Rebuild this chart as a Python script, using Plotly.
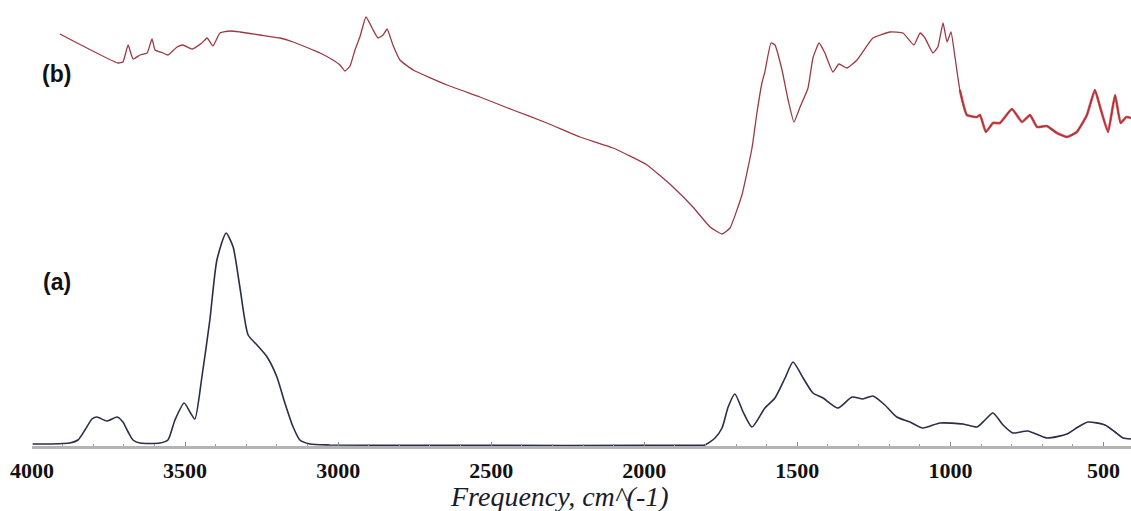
import plotly.graph_objects as go

# Spectrum (a): wavenumber (cm^-1) and relative absorbance
wn_a = [3998, 3941, 3876, 3850, 3827, 3804, 3788, 3755, 3722, 3703, 3686, 3670, 3647,
        3582, 3556, 3533, 3503, 3484, 3468, 3445, 3419, 3396, 3366, 3343, 3321, 3294,
        3265, 3232, 3200, 3174, 3147, 3125, 3092, 3027, 2500, 2000, 1830, 1802, 1769,
        1746, 1726, 1704, 1677, 1648, 1606, 1573, 1540, 1514, 1481, 1449, 1416, 1367,
        1321, 1286, 1253, 1214, 1175, 1132, 1090, 1034, 959, 913, 887, 861, 828, 796,
        747, 685, 619, 583, 551, 495, 462, 436, 410]
ab_a = [0.01, 0.01, 0.015, 0.03, 0.08, 0.135, 0.145, 0.125, 0.145, 0.12, 0.07, 0.03, 0.015,
        0.015, 0.03, 0.13, 0.215, 0.17, 0.135, 0.345, 0.63, 0.93, 1.065, 0.995, 0.795, 0.555,
        0.505, 0.445, 0.345, 0.215, 0.095, 0.03, 0.01, 0.005, 0.003, 0.003, 0.004, 0.005, 0.04,
        0.09, 0.195, 0.26, 0.17, 0.095, 0.19, 0.24, 0.34, 0.42, 0.34, 0.265, 0.24, 0.19,
        0.245, 0.235, 0.25, 0.205, 0.145, 0.12, 0.09, 0.115, 0.11, 0.095, 0.13, 0.165, 0.105, 0.065,
        0.075, 0.04, 0.06, 0.095, 0.12, 0.105, 0.07, 0.04, 0.035]

# Spectrum (b): wavenumber (cm^-1) and transmittance (%)
wn_b = [3909, 3719, 3703, 3686, 3670, 3647, 3624, 3608, 3598, 3572, 3556, 3526, 3507,
        3477, 3445, 3428, 3409, 3386, 3353, 3321, 3255, 3190, 3147, 3082, 3059, 3017,
        2994, 2978, 2961, 2945, 2929, 2909, 2889, 2870, 2853, 2840, 2821, 2798, 2755,
        2644, 2537, 2429, 2318, 2210, 2102, 1991, 1906, 1841, 1785, 1746, 1720, 1681,
        1648, 1632, 1615, 1606, 1586, 1573, 1550, 1530, 1511, 1491, 1465, 1449, 1429,
        1410, 1384, 1364, 1338, 1305, 1253, 1197, 1155, 1119, 1099, 1083, 1057, 1041,
        1024, 1011, 998, 985, 969, 946, 913, 903, 884, 861, 838, 799, 766, 740, 717,
        685, 652, 619, 587, 554, 528, 511, 485, 462, 444, 425, 410]
tr_b = [86.4, 74.8, 75.2, 82.0, 76.4, 78.0, 78.8, 84.4, 80.0, 78.8, 78.0, 81.2, 82.0,
        80.4, 82.8, 84.8, 81.6, 86.8, 87.6, 87.2, 86.0, 84.8, 83.2, 80.0, 78.8, 76.0,
        74.0, 71.6, 73.6, 80.0, 85.2, 93.2, 88.8, 84.8, 86.0, 88.4, 82.0, 76.0, 72.0,
        66.0, 61.2, 56.0, 50.8, 45.2, 40.8, 34.0, 25.2, 17.2, 9.2, 6.4, 8.8, 22.0,
        40.8, 54.8, 67.2, 71.2, 82.8, 82.0, 72.0, 60.0, 51.2, 57.2, 64.8, 76.8, 82.8,
        78.8, 71.2, 74.4, 72.8, 76.0, 84.8, 87.2, 86.8, 82.0, 86.8, 84.8, 78.8, 81.2,
        90.8, 83.2, 87.2, 77.2, 64.0, 54.0, 53.2, 54.0, 47.2, 50.8, 50.8, 56.4, 51.2, 54.0, 49.2,
        49.6, 46.8, 45.2, 47.2, 54.0, 64.0, 57.2, 47.2, 62.0, 50.8, 53.2, 52.8]

tick_vals = [4000, 3500, 3000, 2500, 2000, 1500, 1000, 500]
tick_text = [str(v) for v in tick_vals]

noisy_x = [w for w in wn_b if w <= 975]
noisy_y = [t for w, t in zip(wn_b, tr_b) if w <= 975]

fig = go.Figure()
fig.add_trace(go.Scatter(x=wn_a, y=ab_a, mode="lines", yaxis="y",
                         line=dict(color="#2b2e48", width=1.6, shape="spline", smoothing=0.6),
                         showlegend=False, hoverinfo="skip"))
fig.add_trace(go.Scatter(x=noisy_x, y=noisy_y, mode="lines", yaxis="y2",
                         line=dict(color="rgba(225,20,20,0.75)", width=2.6, shape="spline", smoothing=0.4),
                         showlegend=False, hoverinfo="skip"))
fig.add_trace(go.Scatter(x=wn_b, y=tr_b, mode="lines", yaxis="y2",
                         line=dict(color="#9c3a44", width=1.3, shape="spline", smoothing=0.4),
                         showlegend=False, hoverinfo="skip"))

fig.update_layout(
    width=1131, height=511,
    margin=dict(l=32, r=0, t=0, b=65),
    paper_bgcolor="white", plot_bgcolor="white",
    xaxis=dict(range=[4000, 410], showgrid=False, zeroline=False,
               showline=True, linecolor="#b4b4b4", linewidth=3,
               tickmode="array", tickvals=tick_vals, ticktext=tick_text,
               ticks="inside", ticklen=4, tickcolor="#8a8a8a", tickwidth=1,
               minor=dict(dtick=100, ticks="inside", ticklen=2, tickcolor="#9a9a9a"),
               tickfont=dict(family="Liberation Serif", size=22, color="#111111", weight="bold"),
               ticklabelstandoff=3),
    yaxis=dict(range=[0, 2.23], visible=False, showgrid=False, zeroline=False),
    yaxis2=dict(range=[-78.4, 100], overlaying="y", visible=False, showgrid=False, zeroline=False),
    annotations=[
        dict(text="<i>Frequency, cm^(-1)</i>", xref="paper", yref="paper",
             x=0.4804, y=-0.114, xanchor="center", yanchor="middle", showarrow=False,
             font=dict(family="Liberation Serif", size=28, color="#1a1a2a")),
        dict(text="<b>(b)</b>", xref="paper", yref="paper", x=0.0227, y=0.834,
             xanchor="center", yanchor="middle", showarrow=False,
             font=dict(family="Liberation Sans", size=23, color="#111111")),
        dict(text="<b>(a)</b>", xref="paper", yref="paper", x=0.0227, y=0.368,
             xanchor="center", yanchor="middle", showarrow=False,
             font=dict(family="Liberation Sans", size=23, color="#111111")),
    ],
)

fig.write_html("out.html", config={"displayModeBar": False},
               post_script="document.body.style.margin='0';document.body.style.overflow='hidden';")
